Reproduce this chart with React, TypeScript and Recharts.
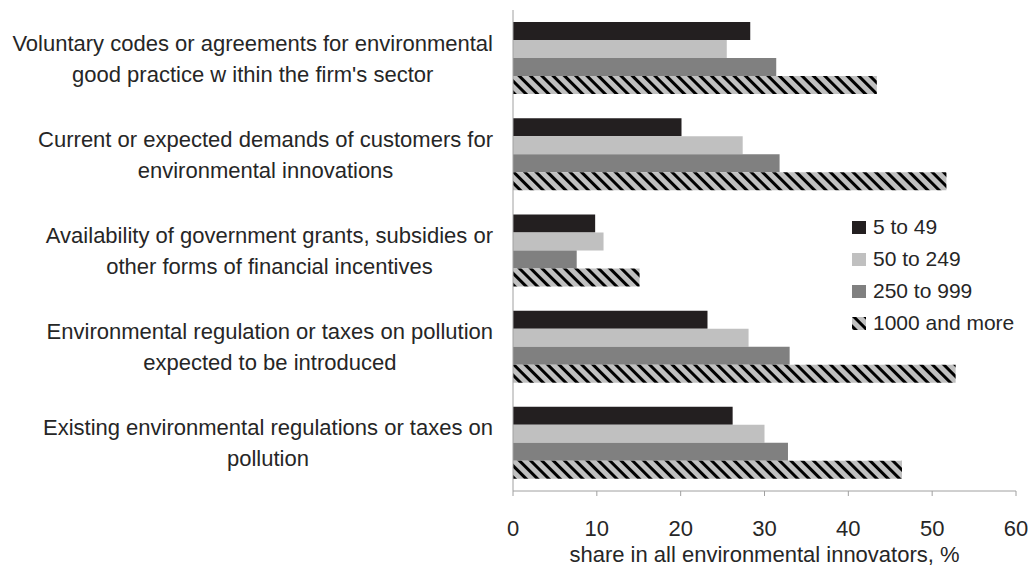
import React from 'react';
import { BarChart, Bar, XAxis, YAxis } from 'recharts';

const categoryLines: string[][] = [
  ['Voluntary codes or agreements for environmental', "good practice w ithin the firm's sector"],
  ['Current or expected demands of customers for', 'environmental innovations'],
  ['Availability of government grants, subsidies or', 'other forms of financial incentives'],
  ['Environmental regulation or taxes on pollution', 'expected to be introduced'],
  ['Existing environmental regulations or taxes on', 'pollution'],
];
const categories = categoryLines.map((l) => l.join(' '));

const seriesNames = ['5 to 49', '50 to 249', '250 to 999', '1000 and more'];
const size5to49 = [28.3, 20.1, 9.8, 23.2, 26.2];
const size50to249 = [25.5, 27.4, 10.8, 28.1, 30.0];
const size250to999 = [31.4, 31.8, 7.6, 33.0, 32.8];
const size1000plus = [43.4, 51.7, 15.1, 52.8, 46.4];

const xTicks = [0, 10, 20, 30, 40, 50, 60];
const xTitle = 'share in all environmental innovators, %';

const fills = ['#231f20', '#c0c0c0', '#808080', 'url(#hatch)'];
const keys = ['s1', 's2', 's3', 's4'];

const data = categories.map((c, i) => ({
  name: c,
  s1: size5to49[i],
  s2: size50to249[i],
  s3: size250to999[i],
  s4: size1000plus[i],
}));

const FONT = 'Liberation Sans, Arial, sans-serif';
const TEXT = '#262626';

let ctx: CanvasRenderingContext2D | null = null;
function measure(t: string, size: number) {
  if (!ctx) ctx = document.createElement('canvas').getContext('2d');
  if (!ctx) return t.length * size * 0.5;
  ctx.font = `${size}px "Liberation Sans"`;
  return ctx.measureText(t).width;
}

const YTick = (props: any) => {
  const { x, y, payload } = props;
  const idx = categories.indexOf(payload.value);
  const lines = idx >= 0 ? categoryLines[idx] : [String(payload.value)];
  const size = 22;
  const w = Math.max(...lines.map((l) => measure(l, size)));
  const right = x - 12;
  const cx = right - w / 2;
  return (
    <g>
      {lines.map((l, i) => (
        <text
          key={i}
          x={cx}
          y={y - 7.5 + i * 31}
          textAnchor="middle"
          fontSize={size}
          fontFamily={FONT}
          fill={TEXT}
        >
          {l}
        </text>
      ))}
    </g>
  );
};

const LegendBox = () => (
  <div style={{ position: 'absolute', left: 852, top: 211, fontFamily: FONT, fontSize: 21, color: TEXT }}>
    {seriesNames.map((n, i) => (
      <div key={n} style={{ display: 'flex', alignItems: 'center', height: 32 }}>
        <svg width={14} height={13} style={{ marginRight: 7 }}>
          <rect width={14} height={13} fill={fills[i]} />
        </svg>
        <span>{n}</span>
      </div>
    ))}
  </div>
);

export default function App() {
  return (
    <div style={{ position: 'absolute', left: 0, top: 0, width: 1032, height: 572, background: '#fff' }}>
      <svg width={0} height={0} style={{ position: 'absolute' }}>
        <defs>
          <pattern id="hatch" width={8} height={8} patternUnits="userSpaceOnUse" patternTransform="rotate(-45)">
            <rect width={8} height={8} fill="#c0c0c0" />
            <rect width={3} height={8} fill="#000" />
          </pattern>
        </defs>
      </svg>
      <BarChart
        width={1032}
        height={572}
        data={data}
        layout="vertical"
        margin={{ top: 10, right: 16, left: 0, bottom: 0 }}
        barCategoryGap="12.5%"
        barGap={0}
      >
        <XAxis
          type="number"
          domain={[0, 60]}
          ticks={xTicks}
          interval={0}
          height={81}
          tickSize={5}
          tickMargin={24}
          stroke="#a0a0a0"
          tick={{ fill: TEXT, fontSize: 22, fontFamily: FONT }}
          label={{ value: xTitle, position: 'insideBottom', offset: 10, fill: TEXT, fontSize: 22, fontFamily: FONT }}
        />
        <YAxis
          type="category"
          dataKey="name"
          width={513}
          tickLine={false}
          stroke="#a0a0a0"
          interval={0}
          tick={<YTick />}
        />
        {keys.map((k, i) => (
          <Bar key={k} dataKey={k} name={seriesNames[i]} fill={fills[i]} isAnimationActive={false} />
        ))}
      </BarChart>
      <LegendBox />
    </div>
  );
}
